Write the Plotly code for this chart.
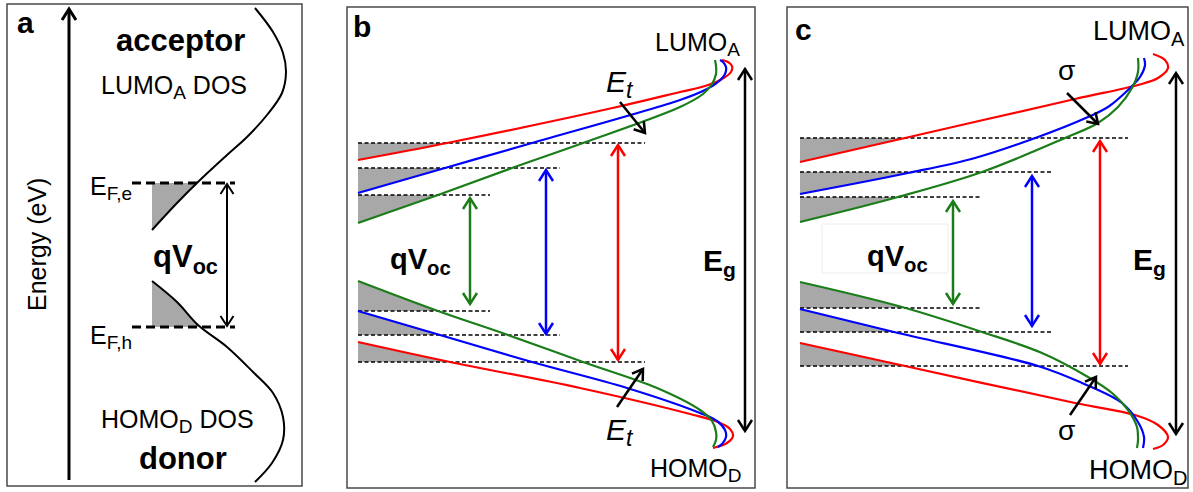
import math
import plotly.graph_objects as go

# ---------------- data (schematic units: x = DOS / position, y = energy, screen-like) -------------
RED, BLUE, GREEN, GRAY = "#ff0000", "#0000ff", "#1a7d1a", "#a8a8a8"

# Panel frames (x0, x1, y0, y1)
PANEL_X0 = [7, 347, 787]
PANEL_X1 = [302, 755, 1188]
PANEL_Y0 = [4, 7, 7]
PANEL_Y1 = [486, 488, 488]

# ---- panel a
A_AXIS_X = [69, 69]
A_AXIS_Y = [480, 8]
A_DOS_UP_X = [255, 273, 283, 286, 282, 267, 247, 227, 200, 177, 152]
A_DOS_UP_Y = [8, 32, 53, 72, 93, 115, 137, 155, 180, 203, 230]
A_DOS_LO_X = [152, 177, 198, 227, 253, 273, 283, 283, 272, 255]
A_DOS_LO_Y = [281, 302, 325, 347, 372, 393, 417, 440, 463, 482]
A_FERMI_Y = [183, 327]
A_FERMI_XR = [132, 235]
A_VOC_X = 227

# ---- panel b
B_RED_UP_X = [358, 447, 617, 680, 705, 722, 731, 732, 728, 722]
B_RED_UP_Y = [160, 143, 107, 92, 86, 79, 72, 66, 62, 60]
B_BLUE_UP_X = [358, 445, 532, 680, 705, 718, 725, 726, 723, 720]
B_BLUE_UP_Y = [193, 168, 143, 100, 90, 82, 74, 67, 62, 60]
B_GREEN_UP_X = [358, 438, 512, 583, 680, 703, 712, 716, 716, 715]
B_GREEN_UP_Y = [223, 195, 168, 143, 107, 94, 84, 74, 66, 60]
B_RED_LO_X = [358, 450, 580, 690, 718, 730, 733, 727, 713]
B_RED_LO_Y = [342, 362, 388, 414, 422, 429, 436, 443, 448]
B_BLUE_LO_X = [358, 440, 532, 627, 700, 717, 725, 726, 722, 718]
B_BLUE_LO_Y = [311, 335, 362, 388, 413, 421, 430, 437, 444, 447]
B_GREEN_LO_X = [358, 438, 508, 583, 657, 700, 712, 716, 716, 713]
B_GREEN_LO_Y = [281, 311, 335, 362, 388, 410, 421, 432, 440, 447]
B_DASH_UP_Y = [143, 168, 195]      # red, blue, green
B_DASH_LO_Y = [362, 335, 311]
B_DASH_END = [645, 560, 490]
B_ARROW_X = [618, 546, 470]
B_ARROW_TOP = [144, 169, 197]
B_ARROW_BOT = [361, 335, 305]
B_EG_X, B_EG_TOP, B_EG_BOT = 745, 68, 432
B_ET_TAIL_X = [620, 617]
B_ET_TAIL_Y = [102, 407]
B_ET_HEAD_X = [645, 643]
B_ET_HEAD_Y = [133, 369]

# ---- panel c
C_RED_UP_X = [800, 905, 1075, 1138, 1158, 1168, 1165, 1153]
C_RED_UP_Y = [162, 138, 99, 85, 78, 68, 60, 54]
C_BLUE_UP_X = [800, 908, 975, 1038, 1088, 1108, 1128, 1140, 1145, 1144]
C_BLUE_UP_Y = [194, 173, 158, 137, 117, 107, 90, 77, 65, 58]
C_GREEN_UP_X = [800, 898, 982, 1065, 1098, 1118, 1132, 1138, 1138]
C_GREEN_UP_Y = [222, 197, 172, 138, 123, 107, 88, 72, 58]
C_RED_LO_X = [800, 905, 1075, 1135, 1158, 1168, 1163, 1153]
C_RED_LO_Y = [343, 366, 403, 415, 425, 437, 445, 449]
C_BLUE_LO_X = [800, 894, 1038, 1082, 1122, 1138, 1144, 1143]
C_BLUE_LO_Y = [309, 332, 366, 383, 403, 422, 437, 448]
C_GREEN_LO_X = [800, 902, 982, 1042, 1088, 1112, 1128, 1137, 1138, 1137]
C_GREEN_LO_Y = [282, 307, 332, 353, 377, 393, 410, 427, 440, 448]
C_DASH_UP_Y = [138, 172, 197]
C_DASH_LO_Y = [366, 332, 308]
C_DASH_END = [1128, 1053, 980]
C_ARROW_X = [1100, 1032, 953]
C_ARROW_TOP = [140, 175, 200]
C_ARROW_BOT = [365, 327, 305]
C_EG_X, C_EG_TOP, C_EG_BOT = 1176, 72, 435
C_SIG_TAIL_X = [1067, 1070]
C_SIG_TAIL_Y = [93, 415]
C_SIG_HEAD_X = [1098, 1096]
C_SIG_HEAD_Y = [124, 377]
C_VOC_BOX = [822, 948, 224, 273]


def sub(s, px):
    return "<sub><span style='font-size:%dpx'>%s</span></sub>" % (px, s)


# ---- text
LABELS = ["<b>a</b>", "<b>acceptor</b>", "LUMO" + sub("A", 19) + " DOS", "E" + sub("F,e", 19),
          "<b>qV<sub>oc</sub></b>", "E" + sub("F,h", 19), "HOMO" + sub("D", 19) + " DOS", "<b>donor</b>",
          "<b>b</b>", "LUMO" + sub("A", 19), "<i>E" + sub("t", 23) + "</i>", "<b>qV<sub>oc</sub></b>",
          "<b>E<sub>g</sub></b>", "<i>E" + sub("t", 23) + "</i>", "HOMO" + sub("D", 19),
          "<b>c</b>", "LUMO" + sub("A", 20), "σ", "<b>qV<sub>oc</sub></b>",
          "<b>E<sub>g</sub></b>", "σ", "HOMO" + sub("D", 20)]
LABEL_X = [25, 180, 174, 111, 185, 111, 177, 183,
           362, 697, 620, 420, 719, 620, 696,
           803, 1139, 1066, 897, 1149, 1066, 1138]
LABEL_Y = [22, 40, 87, 188, 259, 337, 421, 458,
           26, 44, 84, 261, 262, 432, 470,
           29, 33, 70, 258, 261, 430, 472]
LABEL_SIZE = [30, 31, 25, 25, 31, 25, 25, 31,
              30, 25, 30, 29, 30, 30, 25,
              30, 27, 28, 29, 30, 28, 27]
AXIS_TITLE = "Energy (eV)"

FONT = "Liberation Sans, Arial, Helvetica, sans-serif"

# ---------------- helpers ----------------
fig = go.Figure()


def curve(xs, ys, color, width=2.2, shape="spline"):
    fig.add_trace(go.Scatter(x=xs, y=ys, mode="lines", line=dict(color=color, width=width, shape=shape),
                             hoverinfo="skip", showlegend=False))


def crossing(xs, ys, yd):
    for i in range(len(xs) - 1):
        if (ys[i] - yd) * (ys[i + 1] - yd) <= 0 and ys[i] != ys[i + 1]:
            t = (yd - ys[i]) / (ys[i + 1] - ys[i])
            return i, xs[i] + t * (xs[i + 1] - xs[i])
    return None, None


def wedge(xs, ys, yd):
    i, xc = crossing(xs, ys, yd)
    px = [xs[0], xc] + [xs[j] for j in range(i, -1, -1)]
    py = [yd, yd] + [ys[j] for j in range(i, -1, -1)]
    fig.add_trace(go.Scatter(x=px, y=py, mode="lines", fill="toself", fillcolor=GRAY,
                             line=dict(width=0, color=GRAY), hoverinfo="skip", showlegend=False))


def dashed(x0, x1, y, width=1.3, dash="4px,2.5px"):
    fig.add_trace(go.Scatter(x=[x0, x1], y=[y, y], mode="lines",
                             line=dict(color="black", width=width, dash=dash),
                             hoverinfo="skip", showlegend=False))


def chevron(xh, yh, xt, yt, length, half):
    d = math.hypot(xh - xt, yh - yt)
    ux, uy = (xh - xt) / d, (yh - yt) / d
    nx, ny = -uy, ux
    bx, by = xh - length * ux, yh - length * uy
    return [bx + half * nx, xh, bx - half * nx, None], [by + half * ny, yh, by - half * ny, None]


def arrow(xh, yh, xt, yt, color="black", width=2.5, both=False, length=11, half=7):
    xs, ys = [xt, xh, None], [yt, yh, None]
    cx, cy = chevron(xh, yh, xt, yt, length, half)
    xs += cx
    ys += cy
    if both:
        cx, cy = chevron(xt, yt, xh, yh, length, half)
        xs += cx
        ys += cy
    fig.add_trace(go.Scatter(x=xs, y=ys, mode="lines", line=dict(color=color, width=width),
                             connectgaps=False, hoverinfo="skip", showlegend=False))


# ---------------- panel a ----------------
wedge(A_DOS_UP_X[::-1], A_DOS_UP_Y[::-1], A_FERMI_Y[0])
wedge(A_DOS_LO_X, A_DOS_LO_Y, A_FERMI_Y[1])
curve(A_DOS_UP_X, A_DOS_UP_Y, "black", 2)
curve(A_DOS_LO_X, A_DOS_LO_Y, "black", 2)
for yf in A_FERMI_Y:
    dashed(A_FERMI_XR[0], A_FERMI_XR[1], yf, width=3, dash="9px,5px")
arrow(A_AXIS_X[1], A_AXIS_Y[1] + 1, A_AXIS_X[0], A_AXIS_Y[0], width=3, length=11, half=7)
arrow(A_VOC_X, A_FERMI_Y[0] + 1, A_VOC_X, A_FERMI_Y[1] - 1, width=2, both=True, length=10, half=6.5)

# ---------------- panels b and c ----------------
for (ups, los, dup, dlo, dend, ax_, atop, abot) in [
    ([(B_RED_UP_X, B_RED_UP_Y), (B_BLUE_UP_X, B_BLUE_UP_Y), (B_GREEN_UP_X, B_GREEN_UP_Y)],
     [(B_RED_LO_X, B_RED_LO_Y), (B_BLUE_LO_X, B_BLUE_LO_Y), (B_GREEN_LO_X, B_GREEN_LO_Y)],
     B_DASH_UP_Y, B_DASH_LO_Y, B_DASH_END, B_ARROW_X, B_ARROW_TOP, B_ARROW_BOT),
    ([(C_RED_UP_X, C_RED_UP_Y), (C_BLUE_UP_X, C_BLUE_UP_Y), (C_GREEN_UP_X, C_GREEN_UP_Y)],
     [(C_RED_LO_X, C_RED_LO_Y), (C_BLUE_LO_X, C_BLUE_LO_Y), (C_GREEN_LO_X, C_GREEN_LO_Y)],
     C_DASH_UP_Y, C_DASH_LO_Y, C_DASH_END, C_ARROW_X, C_ARROW_TOP, C_ARROW_BOT),
]:
    colors = [RED, BLUE, GREEN]
    for k in range(3):
        wedge(ups[k][0], ups[k][1], dup[k])
        wedge(los[k][0], los[k][1], dlo[k])
    for k in range(3):
        dashed(ups[k][0][0], dend[k], dup[k])
        dashed(los[k][0][0], dend[k], dlo[k])
    for k in [0, 1, 2]:
        curve(ups[k][0], ups[k][1], colors[k])
        curve(los[k][0], los[k][1], colors[k])
    for k in range(3):
        arrow(ax_[k], atop[k] + 1, ax_[k], abot[k] - 1, color=colors[k], width=2.5, both=True)

arrow(B_EG_X, B_EG_TOP + 1, B_EG_X, B_EG_BOT - 1, width=2.5, both=True)
arrow(C_EG_X, C_EG_TOP + 1, C_EG_X, C_EG_BOT - 1, width=2.5, both=True)
for k in range(2):
    arrow(B_ET_HEAD_X[k], B_ET_HEAD_Y[k], B_ET_TAIL_X[k], B_ET_TAIL_Y[k], width=2.5, length=10, half=6.5)
    arrow(C_SIG_HEAD_X[k], C_SIG_HEAD_Y[k], C_SIG_TAIL_X[k], C_SIG_TAIL_Y[k], width=2.5, length=10, half=6.5)

# ---------------- frames ----------------
for k in range(3):
    fig.add_shape(type="rect", xref="x", yref="y", x0=PANEL_X0[k], x1=PANEL_X1[k],
                  y0=PANEL_Y0[k], y1=PANEL_Y1[k], line=dict(color="#4a4a4a", width=1.5))
fig.add_shape(type="rect", xref="x", yref="y", x0=C_VOC_BOX[0], x1=C_VOC_BOX[1],
              y0=C_VOC_BOX[2], y1=C_VOC_BOX[3], line=dict(color="#ececec", width=1), layer="below")

# ---------------- text ----------------
for t, x, y, s in zip(LABELS, LABEL_X, LABEL_Y, LABEL_SIZE):
    fig.add_annotation(x=x, y=y, xref="x", yref="y", text=t, showarrow=False,
                       xanchor="center", yanchor="middle", font=dict(family=FONT, size=s, color="black"))
fig.add_annotation(x=37, y=245, xref="x", yref="y", text=AXIS_TITLE, showarrow=False, textangle=-90,
                   xanchor="center", yanchor="middle", font=dict(family=FONT, size=25, color="black"))

fig.update_layout(width=1193, height=492, margin=dict(l=0, r=0, t=0, b=0),
                  paper_bgcolor="white", plot_bgcolor="white", showlegend=False)
fig.update_xaxes(range=[0, 1193], visible=False, fixedrange=True)
fig.update_yaxes(range=[492, 0], visible=False, fixedrange=True)
fig.write_html("out.html", config={"displayModeBar": False},
               post_script="document.body.style.margin='0';document.body.style.overflow='hidden';")
